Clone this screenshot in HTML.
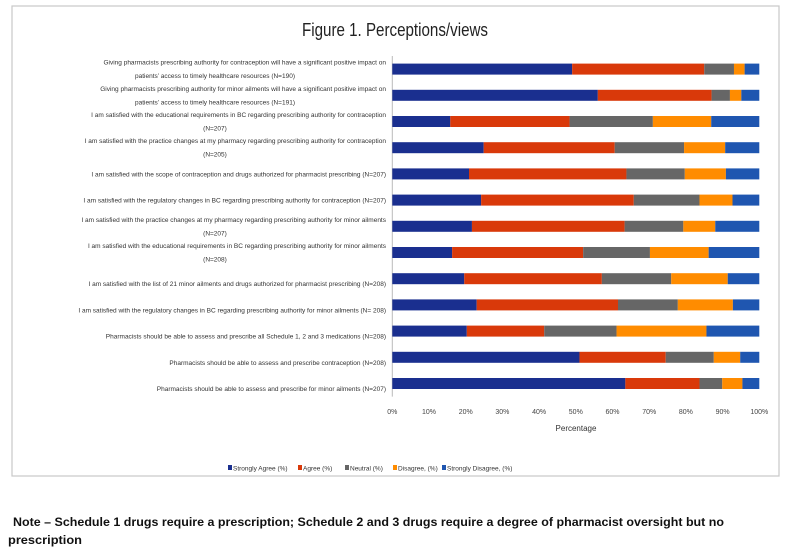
<!DOCTYPE html>
<html><head><meta charset="utf-8"><style>
html,body{margin:0;padding:0;background:#fff;}
svg{display:block;font-family:"Liberation Sans",sans-serif;}
</style></head><body>
<svg id="chart" width="788" height="554" viewBox="0 0 788 554">
<rect x="12" y="6" width="767" height="470" fill="#fff" stroke="#c8c8c8" stroke-width="1.2"/>
<text x="395" y="36" text-anchor="middle" font-size="18" fill="#222" textLength="186" lengthAdjust="spacingAndGlyphs">Figure 1. Perceptions/views</text>
<g id="bars"></g>
<g id="labels"></g>
<g id="xaxis"></g>
<text x="576" y="431" text-anchor="middle" font-size="8" fill="#333">Percentage</text>
<g id="legend"></g>
<text x="13" y="526" font-size="12" font-weight="bold" fill="#111" textLength="711" lengthAdjust="spacingAndGlyphs">Note – Schedule 1 drugs require a prescription;  Schedule 2 and 3 drugs require a degree of pharmacist oversight but no</text>
<text x="8" y="544" font-size="12" font-weight="bold" fill="#111" textLength="74" lengthAdjust="spacingAndGlyphs">prescription</text>
</svg>
<script>
const series = ["Strongly Agree (%)","Agree (%)","Neutral (%)","Disagree, (%)","Strongly Disagree,  (%)"];
const colors = ["#1a2f8f","#d9390a","#666666","#ff8c00","#1f56b0"];
const stronglyAgree = [49.0,56.0,15.8,24.9,20.9,24.2,21.7,16.3,19.6,23.0,20.3,51.0,63.5];
const agree = [36.0,31.0,32.5,35.7,42.9,41.6,41.6,35.7,37.5,38.5,21.1,23.5,20.2];
const neutral = [8.1,5.0,22.7,18.9,15.9,17.9,16.0,18.2,18.9,16.3,19.7,13.1,6.2];
const disagree = [2.9,3.1,15.9,11.2,11.2,9.0,8.7,16.0,15.4,15.0,24.5,7.2,5.5];
const stronglyDisagree = [4.0,4.9,13.1,9.3,9.1,7.3,12.0,13.8,8.6,7.2,14.4,5.2,4.6];
const ticks = ["0%","10%","20%","30%","40%","50%","60%","70%","80%","90%","100%"];
const categories = [
 ["Giving pharmacists prescribing authority for contraception will have a significant positive impact on","patients’ access to timely healthcare resources (N=190)"],
 ["Giving pharmacists prescribing authority for minor ailments will have a significant positive impact on","patients’ access to timely healthcare resources (N=191)"],
 ["I am satisfied with the educational requirements in BC regarding prescribing authority for contraception","(N=207)"],
 ["I am satisfied with the practice changes at my pharmacy regarding prescribing authority for contraception","(N=205)"],
 ["I am satisfied with the scope of contraception and drugs authorized for pharmacist prescribing (N=207)"],
 ["I am satisfied with the regulatory changes in BC regarding prescribing authority for contraception (N=207)"],
 ["I am satisfied with the practice changes at my pharmacy regarding prescribing authority for minor ailments","(N=207)"],
 ["I am satisfied with the educational requirements in BC regarding prescribing authority for minor ailments","(N=208)"],
 ["I am satisfied with the list of 21 minor ailments and drugs authorized for pharmacist prescribing (N=208)"],
 ["I am satisfied with the regulatory changes in BC regarding prescribing authority for minor ailments (N= 208)"],
 ["Pharmacists should be able to assess and prescribe all Schedule 1, 2 and 3 medications (N=208)"],
 ["Pharmacists should be able to assess and prescribe contraception (N=208)"],
 ["Pharmacists should be able to assess and prescribe for minor ailments (N=207)"]
];
const NS="http://www.w3.org/2000/svg";
const x0=392.3, x1=759.3, yTop=56, rowH=26.2, barH=11;
function xs(v){return x0+(x1-x0)*v/100;}
function yc(i){return yTop+rowH*i+rowH/2;}
function mk(tag,attrs,parent){const e=document.createElementNS(NS,tag);for(const k in attrs)e.setAttribute(k,attrs[k]);parent.appendChild(e);return e;}
const data=[stronglyAgree,agree,neutral,disagree,stronglyDisagree];
const bars=document.getElementById('bars');
const labs=document.getElementById('labels');
const ax=mk('line',{x1:x0,x2:x0,y1:yTop,y2:yTop+rowH*13,stroke:'#bbb','stroke-width':1},bars);


for(let i=0;i<categories.length;i++){
  let cum=0;
  for(let s=0;s<5;s++){
    const v=data[s][i];
    const r=mk('rect',{x:xs(cum),y:yc(i)-barH/2,width:xs(cum+v)-xs(cum),height:barH,fill:colors[s]},bars);
    
    
    cum+=v;
  }
  const lines=categories[i];
  const t=mk('text',{'text-anchor':'end','font-size':'6.5',fill:'#333'},labs);
  
  
  const off = lines.length>1 ? -4.5 : 2.5;
  const first = (i>=8) ? 5 : 0;
  lines.forEach((ln,k)=>{
    const ts=mk('tspan',{x:(k===0?386:215),y:yc(i)+off+first+k*13.5},t);
    if(k>0){ts.setAttribute('text-anchor','middle');}
    ts.textContent=ln;
  });
}
const xa=document.getElementById('xaxis');
ticks.forEach((tk,j)=>{
  const t=mk('text',{x:xs(j*10),y:414,'text-anchor':'middle','font-size':'7',fill:'#444'},xa);
  
  
  t.textContent=tk;
});
const lg=document.getElementById('legend');
const lx=[228,298,345,393,442];
series.forEach((s,k)=>{
  const g=mk('g',{},lg);
  
  
  mk('rect',{x:lx[k],y:465,width:4,height:5,fill:colors[k]},g);
  const t=mk('text',{x:lx[k]+5,y:470.5,'font-size':'6.5',fill:'#333'},g);
  t.textContent=s;
});
</script>
</body></html>
